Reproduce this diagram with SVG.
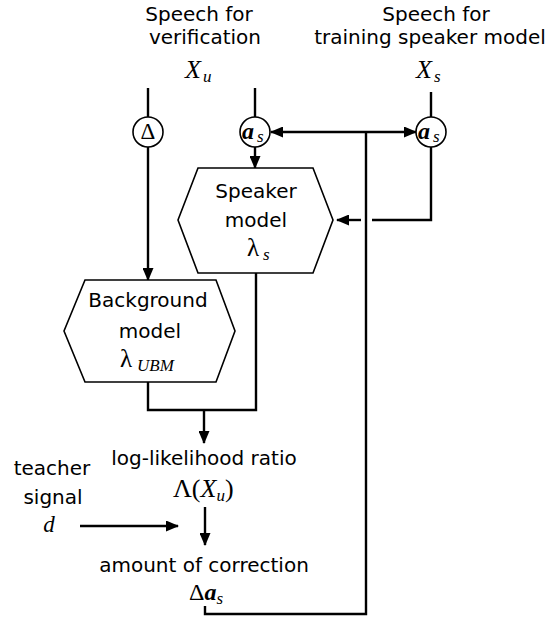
<svg xmlns="http://www.w3.org/2000/svg" width="559" height="619" viewBox="0 0 559 619">
<style>
.t{font-family:"DejaVu Sans","Noto Sans",sans-serif;font-size:20px;fill:#000;text-anchor:middle}
.m{font-family:"Liberation Serif","Times New Roman",serif;font-size:23px;fill:#000}
.i{font-style:italic}
.b{font-weight:bold}
.sub{font-size:17px;font-style:italic}
.c{fill:#fff;stroke:#000;stroke-width:1.6}
.hex{fill:#fff;stroke:#000;stroke-width:1.6}
.ln{fill:none;stroke:#000;stroke-width:2.4}
.ar{fill:none;stroke:#000;stroke-width:2.4;marker-end:url(#ah)}
</style>
<defs>
<marker id="ah" markerUnits="userSpaceOnUse" markerWidth="13" markerHeight="11" viewBox="0 0 13 11" refX="12" refY="5.5" orient="auto">
<path d="M0,0 L13,5.5 L0,11 z" fill="#000"/>
</marker>
</defs>
<rect width="559" height="619" fill="#fff"/>

<g id="connectors">
<line class="ln" x1="148" y1="88" x2="148" y2="117"/>
<line class="ar" x1="148" y1="147" x2="148" y2="280"/>
<line class="ln" x1="255" y1="88" x2="255" y2="117"/>
<line class="ar" x1="255" y1="147" x2="255" y2="168"/>
<line class="ln" x1="431" y1="92" x2="431" y2="117"/>
<path class="ln" d="M205,606 V614 H366 V132"/>
<line class="ar" x1="366" y1="132" x2="271" y2="132"/>
<line class="ar" x1="366" y1="132" x2="416" y2="132"/>
<path class="ln" d="M431,147 V220 H372"/>
<line class="ar" x1="361" y1="220" x2="337" y2="220"/>
<path class="ln" d="M256,273 V410 H148 V382"/>
<line class="ar" x1="204" y1="410" x2="204" y2="443"/>
<line class="ar" x1="205" y1="507" x2="205" y2="545"/>
<line class="ar" x1="80" y1="526" x2="178" y2="526"/>
</g>

<g id="input-verification">
<text class="t" x="199" y="21">Speech for</text>
<text class="t" x="205" y="44">verification</text>
<text class="m"><tspan class="i" x="185" y="78" font-size="26">X</tspan><tspan class="sub" x="203" y="82">u</tspan></text>
</g>

<g id="input-training">
<text class="t" x="436" y="21">Speech for</text>
<text class="t" x="430" y="44">training speaker model</text>
<text class="m"><tspan class="i" x="416" y="78" font-size="26">X</tspan><tspan class="sub" x="434" y="82">s</tspan></text>
</g>

<g id="delta-op">
<circle class="c" cx="148" cy="132" r="15"/>
<text class="m" x="148" y="139" text-anchor="middle" font-size="22">Δ</text>
</g>

<g id="as-op-left">
<circle class="c" cx="255" cy="132" r="15"/>
<text class="m"><tspan class="i b" x="242" y="139" font-size="24">a</tspan><tspan class="sub" x="257" y="142" font-size="16">s</tspan></text>
</g>

<g id="as-op-right">
<circle class="c" cx="431" cy="132" r="15"/>
<text class="m"><tspan class="i b" x="418" y="139" font-size="24">a</tspan><tspan class="sub" x="433" y="142" font-size="16">s</tspan></text>
</g>

<g id="speaker-model">
<polygon class="hex" points="198,168 313,168 333,220 313,273 198,273 178,220"/>
<text class="t" x="256" y="198">Speaker</text>
<text class="t" x="256" y="227">model</text>
<text class="m"><tspan x="247" y="256" font-size="25">λ</tspan><tspan class="sub" x="263" y="260">s</tspan></text>
</g>

<g id="background-model">
<polygon class="hex" points="85,280 216,280 235,331 216,382 85,382 64,331"/>
<text class="t" x="148" y="307">Background</text>
<text class="t" x="150" y="338">model</text>
<text class="m"><tspan x="120" y="367" font-size="25">λ</tspan><tspan class="sub" x="137" y="371" font-size="18">UBM</tspan></text>
</g>

<g id="log-likelihood-ratio">
<text class="t" x="204" y="465">log-likelihood ratio</text>
<text class="m"><tspan x="173" y="497" font-size="26">Λ(</tspan><tspan class="i" font-size="26">X</tspan><tspan class="sub" dy="4">u</tspan><tspan dy="-4" font-size="26">)</tspan></text>
</g>

<g id="teacher-signal">
<text class="t" x="52" y="475">teacher</text>
<text class="t" x="53" y="504">signal</text>
<text class="m i" x="49" y="532" text-anchor="middle" font-size="24">d</text>
</g>

<g id="amount-of-correction">
<text class="t" x="204" y="572">amount of correction</text>
<text class="m"><tspan x="189" y="600" font-size="24">Δ</tspan><tspan class="i b" font-size="24">a</tspan><tspan class="sub" dy="4" font-size="16">s</tspan></text>
</g>
</svg>
